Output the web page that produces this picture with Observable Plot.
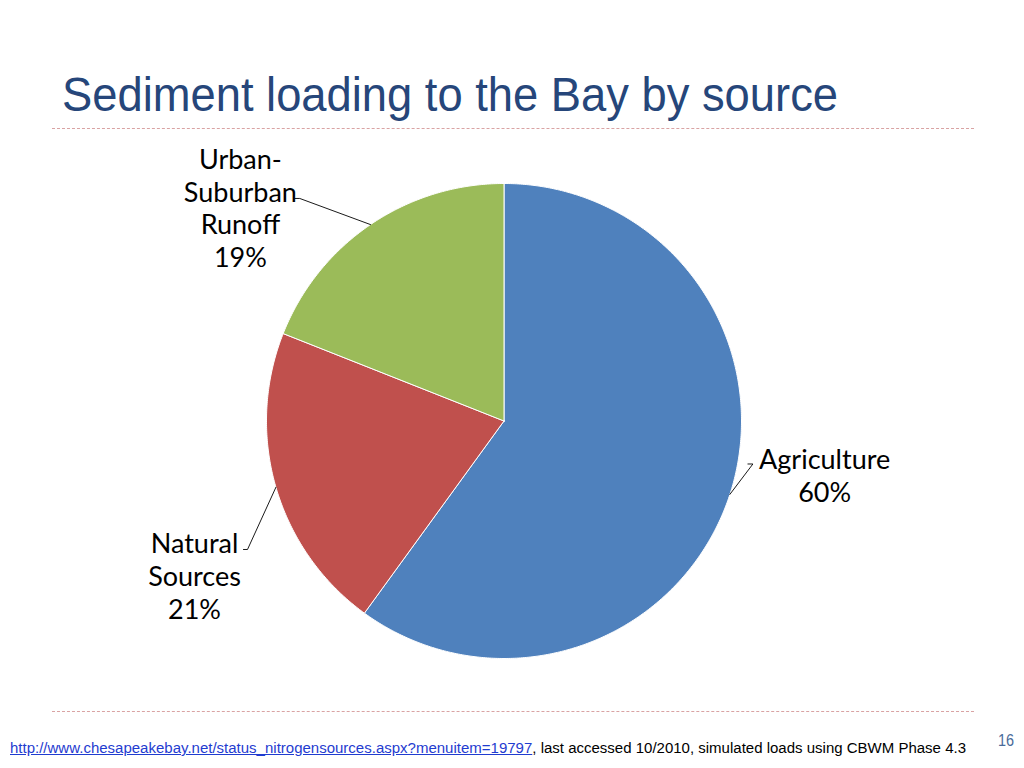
<!DOCTYPE html>
<html>
<head>
<meta charset="utf-8">
<script src="https://cdn.jsdelivr.net/npm/d3@7"></script>
<script src="https://cdn.jsdelivr.net/npm/@observablehq/plot@0.6"></script>
<style>
  html, body { margin: 0; padding: 0; background: #fff; }
  #page { position: relative; width: 1024px; height: 768px; overflow: hidden; }
  #title { position: absolute; left: 62px; top: 71px; font-family: "Liberation Sans", Arial, sans-serif; font-size: 48px; color: #26467a; white-space: nowrap; line-height: 1; transform-origin: 0 0; }
  .rule { position: absolute; left: 52px; width: 922px; height: 0; border-top: 1px dashed #d9a3a3; }
  #chart { position: absolute; left: 0; top: 140px; }
  #foot { position: absolute; left: 10px; top: 740px; font-family: "Liberation Sans", Arial, sans-serif; font-size: 15.5px; color: #000; white-space: nowrap; line-height: 1; transform-origin: 0 0; }
  #foot a { color: #1f3cd0; text-decoration: underline; }
  #pnum { position: absolute; left: 998px; top: 732px; font-family: "Liberation Sans", Arial, sans-serif; font-size: 16px; color: #4a6b9a; transform: scaleX(0.9); transform-origin: 0 0; }
</style>
</head>
<body>
<div id="page">
  <div id="title">Sediment loading to the Bay by source</div>
  <div class="rule" style="top:128px"></div>
  <div id="chart"></div>
  <div class="rule" style="top:711px"></div>
  <div id="foot"><a>http://www.chesapeakebay.net/status_nitrogensources.aspx?menuitem=19797</a>, last accessed 10/2010, simulated loads using CBWM Phase 4.3</div>
  <div id="pnum">16</div>
</div>
<script>
// ---- data ----
const categories = ["Agriculture", "Natural Sources", "Urban-Suburban Runoff"];
const values = [60, 21, 19];
const labelTexts = ["Agriculture\n60%", "Natural\nSources\n21%", "Urban-\nSuburban\nRunoff\n19%"];
const colors = ["#4F81BD", "#C0504D", "#9BBB59"];

// label block centers and leader elbows (in pie-radius units, center = 0,0)
const labelX = [1.35, -1.303, -1.11];
const labelY = [-0.227, -0.651, 0.899];
const elbowX = [[1.048, 1.048 - 0.021], [-1.08, -1.08 - 0.017], [-0.86, -0.86 - 0.02]];
const elbowY = [[-0.181, -0.181], [-0.541, -0.541], [0.937, 0.937]];

// ---- layout ----
const W = 1024, H = 560;
const cx = 503.5, cy = 280.5, R = 237.5;

function fitWidth(id, target) {
  const el = document.getElementById(id);
  const w = el.getBoundingClientRect().width;
  el.style.transform = `scaleX(${target / w})`;
}
fitWidth("title", 776);
fitWidth("foot", 956);

const total = d3.sum(values);
let acc = 0;
const slices = values.map((v, i) => {
  const a0 = acc / total * 2 * Math.PI;
  acc += v;
  const a1 = acc / total * 2 * Math.PI;
  return {i, name: categories[i], a0, a1, mid: (a0 + a1) / 2};
});

// polygon outline per slice (angles clockwise from top)
const polys = [];
for (const s of slices) {
  polys.push({k: s.name, x: 0, y: 0});
  const n = Math.max(2, Math.ceil((s.a1 - s.a0) / (Math.PI / 360)));
  for (let j = 0; j <= n; j++) {
    const a = s.a0 + (s.a1 - s.a0) * j / n;
    polys.push({k: s.name, x: Math.sin(a), y: Math.cos(a)});
  }
  polys.push({k: s.name, x: 0, y: 0});
}

// leader lines: from slice mid-angle on the rim to the label elbow
const leaders = [];
for (const s of slices) {
  leaders.push({k: s.name, x: Math.sin(s.mid), y: Math.cos(s.mid)});
  leaders.push({k: s.name, x: elbowX[s.i][0], y: elbowY[s.i][0]});
  leaders.push({k: s.name, x: elbowX[s.i][1], y: elbowY[s.i][1]});
}

const labels = categories.map((c, i) => ({k: c, x: labelX[i], y: labelY[i], t: labelTexts[i]}));

const chart = Plot.plot({
  width: W,
  height: H,
  margin: 0,
  x: {domain: [-cx / R, (W - cx) / R], range: [0, W], axis: null},
  y: {domain: [-(H - cy) / R, cy / R], range: [H, 0], axis: null},
  color: {domain: categories, range: colors},
  marks: [
    Plot.line(polys, {x: "x", y: "y", z: "k", fill: "k", stroke: "white", strokeWidth: 1, curve: "linear-closed"}),
    Plot.line(leaders, {x: "x", y: "y", z: "k", stroke: "#000", strokeWidth: 0.9}),
    Plot.text(labels, {x: "x", y: "y", text: "t", fontSize: 27, lineHeight: 1.22, fill: "#000", fontFamily: "Lato, 'Open Sans', sans-serif"})
  ]
});
document.getElementById("chart").appendChild(chart);
</script>
</body>
</html>
